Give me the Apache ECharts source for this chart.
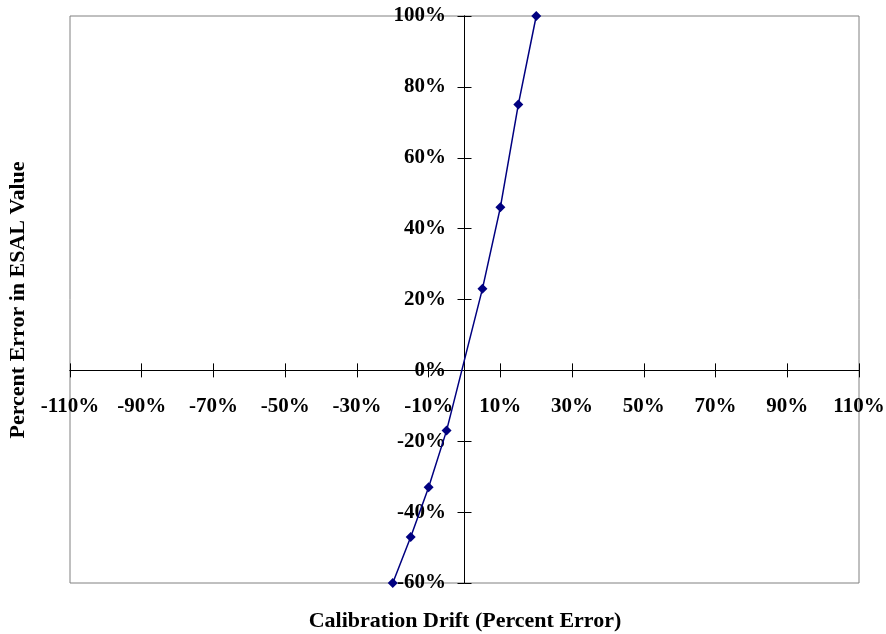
<!DOCTYPE html>
<html>
<head>
<meta charset="utf-8">
<script src="https://cdn.jsdelivr.net/npm/echarts@6/dist/echarts.min.js"></script>
<style>
html,body{margin:0;padding:0;background:#fff;}
#chart{width:886px;height:634px;}
</style>
</head>
<body>
<div id="chart"></div>
<script>
var driftX = [20, 15, 10, 5, -5, -10, -15, -20];
var errorY = [100, 75, 46, 23, -17, -33, -47, -60];
var xTitle = 'Calibration Drift (Percent Error)';
var yTitle = 'Percent Error in ESAL Value';

var FONT = "'Liberation Serif','Times New Roman',serif";
var chart = echarts.init(document.getElementById('chart'));
var pts = driftX.map(function(x, i){ return [x, errorY[i]]; });

function xAx(pos, labels, zi){
  return {
    type: 'value', min: -110, max: 110, interval: 20, position: pos,
    axisLine: {show: true, onZero: true, onZeroAxisIndex: zi, lineStyle: {color: '#000', width: 1}},
    axisTick: {show: true, length: 7, lineStyle: {color: '#000'}},
    axisLabel: {show: labels, margin: -187, fontFamily: FONT, fontWeight: 'bold', fontSize: 21, color: '#000',
      formatter: function(v){ return v + '%'; }},
    splitLine: {show: false}
  };
}
function yAx(pos, labels, zi){
  return {
    type: 'value', min: -60, max: 100, interval: 20, position: pos,
    axisLine: {show: true, onZero: true, onZeroAxisIndex: zi, lineStyle: {color: '#000', width: 1}},
    axisTick: {show: true, length: 7, lineStyle: {color: '#000'}},
    axisLabel: {show: labels, margin: -376, fontFamily: FONT, fontWeight: 'bold', fontSize: 21, color: '#000',
      formatter: function(v){ return v + '%'; }},
    splitLine: {show: false}
  };
}

chart.setOption({
  animation: false,
  backgroundColor: '#fff',
  grid: {left: 70, right: 27, top: 16, bottom: 51, show: true, borderColor: '#808080', borderWidth: 1, containLabel: false, outerBoundsMode: 'none'},
  xAxis: [xAx('bottom', true, 0), xAx('top', false, 1)],
  yAxis: [yAx('left', true, 0), yAx('right', false, 1)],
  series: [{
    type: 'line', xAxisIndex: 0, yAxisIndex: 0, data: pts,
    symbol: 'diamond', symbolSize: 10, clip: false,
    lineStyle: {color: '#000080', width: 1.5},
    itemStyle: {color: '#000080'}
  }],
  graphic: [
    {type: 'text', x: 465, y: 610, style: {text: xTitle, font: "bold 22px " + FONT, fill: '#000', align: 'center', verticalAlign: 'top'}},
    {type: 'text', x: 7, y: 300, rotation: Math.PI/2, style: {text: yTitle, font: "bold 22px " + FONT, fill: '#000', align: 'center', verticalAlign: 'top'}}
  ]
});
</script>
</body>
</html>
